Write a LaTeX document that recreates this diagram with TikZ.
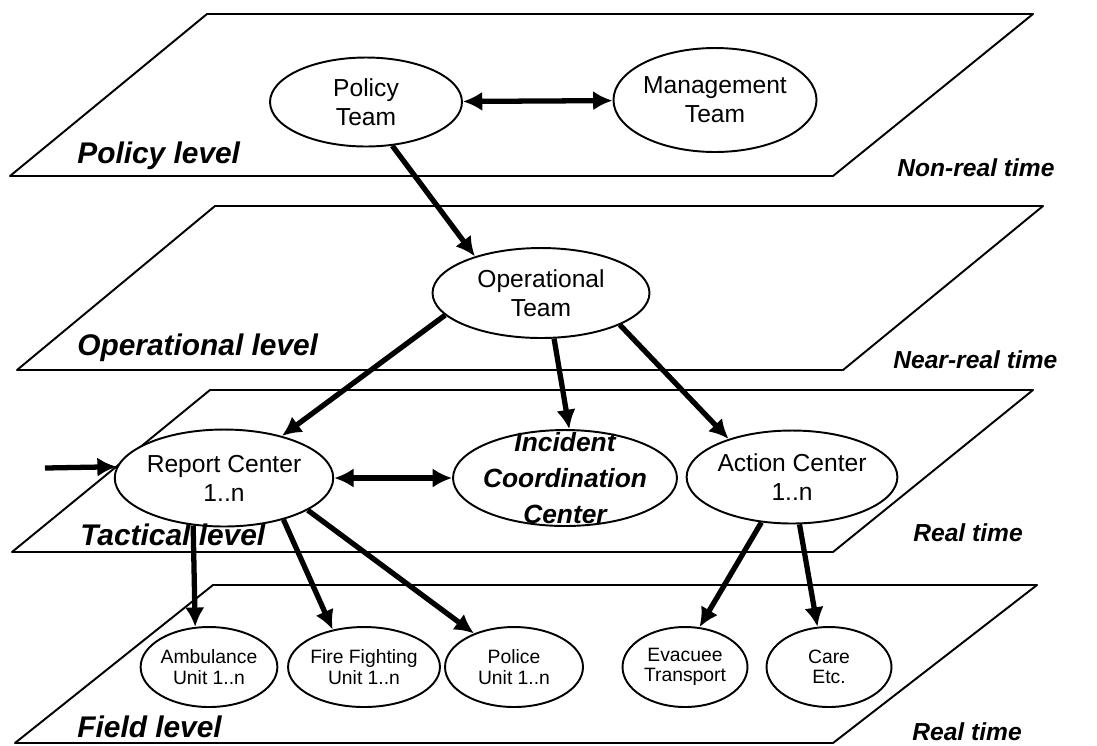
\documentclass[tikz,border=0pt]{standalone}
\usepackage{fontspec}
\setmainfont{Liberation Sans}
\usepackage{tikz}
\usetikzlibrary{shapes,arrows.meta}
\tikzstyle{plane} = [draw, line width=1.1pt, line join=round]
\tikzstyle{team} = [draw, ellipse, fill=white, line width=1.1pt, inner sep=0pt, align=center, font=\fontsize{14}{16.5}\selectfont]
\tikzstyle{unit} = [team, minimum height=1.6cm, font=\fontsize{11}{11.5}\selectfont]
\tikzstyle{level} = [anchor=base west, inner sep=0pt, font=\fontsize{17}{17}\selectfont\bfseries\itshape]
\tikzstyle{timing} = [anchor=base west, inner sep=0pt, font=\fontsize{14}{14}\selectfont\bfseries\itshape]
\tikzstyle{link} = [line width=3pt]

\begin{document}
\begin{tikzpicture}[x=0.02cm, y=-0.02cm, >={Latex[length=11pt,width=11pt]}]
	\useasboundingbox (0,0) rectangle (1097,745);
	\draw [plane] (10,176) -- (833,176) -- (1033,14) -- (207,14) -- cycle;
	\draw [plane] (17,370) -- (843,370) -- (1043,206) -- (215,206) -- cycle;
	\draw [plane] (12,552) -- (833,552) -- (1033,390) -- (210,390) -- cycle;
	\draw [plane] (15,743) -- (833,743) -- (1037,585) -- (213,585) -- cycle;

	\node [team, minimum width=3.84cm, minimum height=1.78cm] (policy) at (366,102) {Policy\\Team};
	\node [team, minimum width=3.88cm, minimum height=2.08cm] (mgmt) at (715,100) {Management\\Team};
	\node [team, minimum width=4.34cm, minimum height=1.8cm] (ops) at (541,293) {Operational\\Team};
	\node [team, minimum width=3.96cm, minimum height=1.94cm] (report) at (224,478) {Report Center\\1..n};
	\node [team, minimum width=4.48cm, minimum height=1.92cm] (incident) at (565,478) {};
	\node [align=center, inner sep=0pt, font=\fontsize{15}{20.5}\selectfont\bfseries\itshape] (incidenttext) at (incident) {Incident\\Coordination\\Center};
	\node [team, minimum width=3.98cm, minimum height=1.86cm] (action) at (792,477) {Action Center\\1..n};
	\node [unit, minimum width=2.7cm] (ambulance) at (209,667) {Ambulance\\Unit 1..n};
	\node [unit, minimum width=2.76cm] (fire) at (364,667) {Fire Fighting\\Unit 1..n};
	\node [unit, minimum width=2.76cm] (police) at (514,667) {Police\\Unit 1..n};
	\node [unit, minimum width=2.5cm] (evacuee) at (685,667) {Evacuee\\Transport};
	\node [unit, minimum width=2.5cm] (care) at (829,667) {Care\\Etc.};

	\node [level] (lpolicy) at (77,163) {Policy level};
	\node [level] (lops) at (77,355) {Operational level};
	\node [level] (ltactical) at (80,545) {Tactical level};
	\node [level] (lfield) at (77,737) {Field level};
	\node [timing] (tpolicy) at (897,176) {Non-real time};
	\node [timing] (tops) at (893,368) {Near-real time};
	\node [timing] (ttactical) at (913,541) {Real time};
	\node [timing] (tfield) at (912,740) {Real time};

	\coordinate (caller) at (45,468);
	\draw [link,<->] (policy) -- (mgmt);
	\draw [link,->] (policy.-59) -- (ops.151);
	\draw [link,->] (ops.-167) -- (report.36);
	\draw [link,->] (ops.-74) -- (incident.85);
	\draw [link,->] (ops.-22) -- (action.149);
	\draw [link,->] (caller) -- (report.174);
	\draw [link,<->] (report) -- (incident);
	\draw [link,->] (report.-123) -- (ambulance.109);
	\draw [link,->] (report.-35) -- (fire.130);
	\draw [link,->] (report.-21) -- (police.140);
	\draw [link,->] (action.-124) -- (evacuee.70);
	\draw [link,->] (action.-81) -- (care.106);
\end{tikzpicture}
\end{document}
